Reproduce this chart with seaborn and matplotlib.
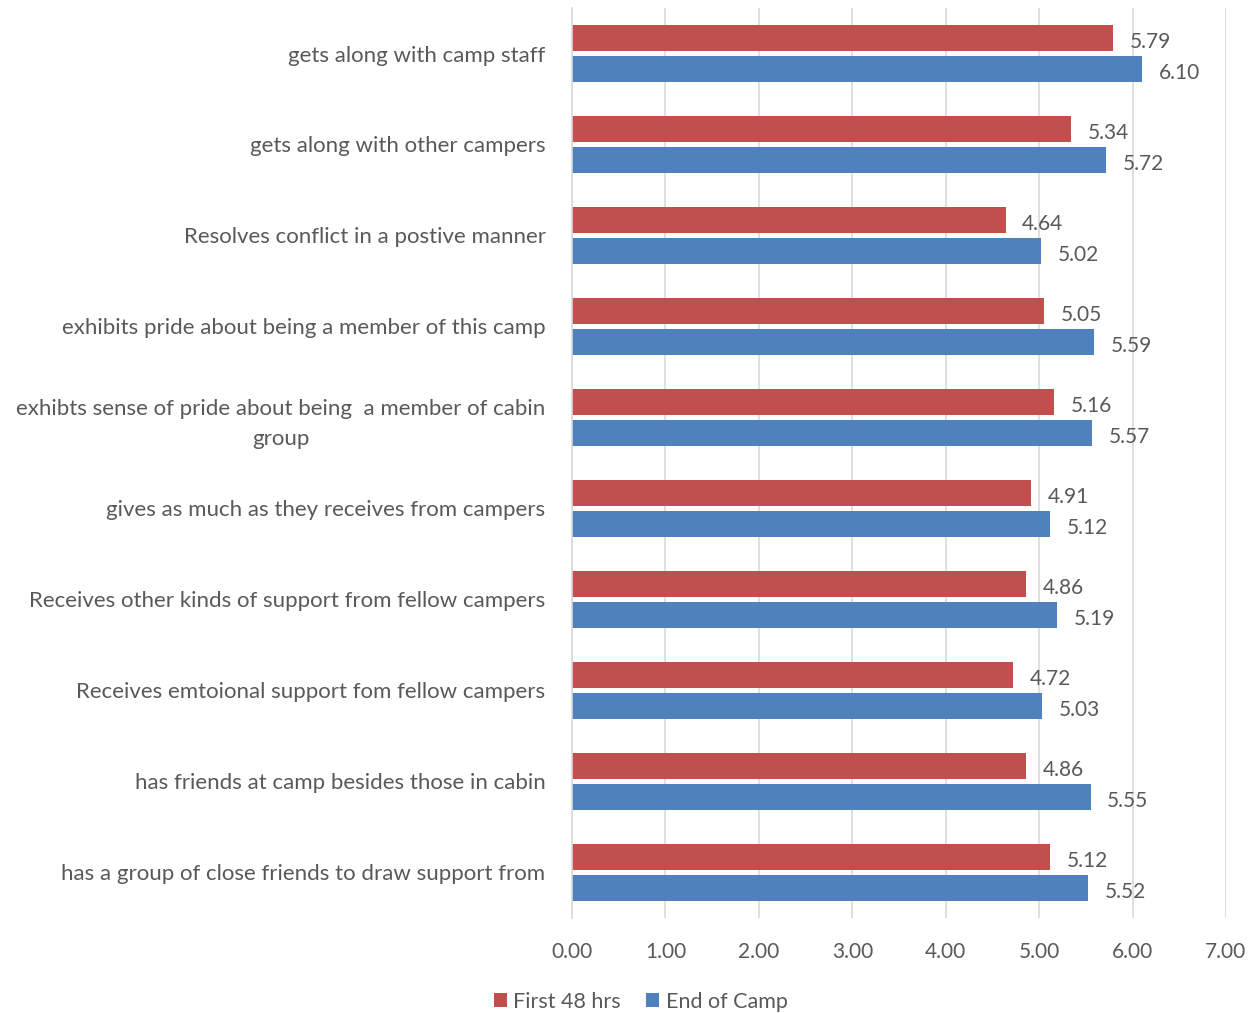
import numpy as np
import pandas as pd
import matplotlib
matplotlib.use('Agg')
import matplotlib.pyplot as plt
import seaborn as sns

items = [
	'gets along with camp staff',
	'gets along with other campers',
	'Resolves conflict in a postive manner',
	'exhibits pride about being a member of this camp',
	'exhibts sense of pride about being  a member of cabin\ngroup',
	'gives as much as they receives from campers',
	'Receives other kinds of support from fellow campers',
	'Receives emtoional support fom fellow campers',
	'has friends at camp besides those in cabin',
	'has a group of close friends to draw support from',
]
first_48 = [5.79, 5.34, 4.64, 5.05, 5.16, 4.91, 4.86, 4.72, 4.86, 5.12]
end_camp = [6.10, 5.72, 5.02, 5.59, 5.57, 5.12, 5.19, 5.03, 5.55, 5.52]
series = ['First 48 hrs', 'End of Camp']
xticks = [0, 1, 2, 3, 4, 5, 6, 7]

df = pd.DataFrame({
	'item': items * 2,
	'score': first_48 + end_camp,
	'series': [series[0]] * len(items) + [series[1]] * len(items),
})

sns.set_style('white')
plt.rcParams['font.family'] = ['Lato', 'DejaVu Sans']
txt = '#595959'

fig = plt.figure(figsize=(12.5, 10.13), dpi=100)
ax = fig.add_axes([0.4576, 0.0938, 0.5232, 0.8983])

sns.barplot(data=df, y='item', x='score', hue='series', order=items,
	hue_order=series, palette=['#c0504d', '#4f81bd'], orient='h',
	width=0.68, gap=0.14, ax=ax, errorbar=None, saturation=1,
	edgecolor='none')

# nudge the value labels a little downward, like the original
for cont in ax.containers:
	for t in ax.bar_label(cont, fmt='%.2f', padding=12, color=txt, fontsize=15):
		ox, oy = t.xyann
		t.xyann = (ox, oy - 3)

ax.set_xlim(0, 7)
ax.set_ylim(9.5, -0.5)
ax.set_xticks(xticks)
ax.set_xticklabels(['%.2f' % v for v in xticks], color=txt, fontsize=15)
ax.set_yticks(range(len(items)))
ax.set_yticklabels(items, color=txt, fontsize=16, multialignment='center',
	linespacing=1.6)
ax.tick_params(axis='y', length=0, pad=19)
ax.tick_params(axis='x', length=0, pad=17)
ax.set_xlabel('')
ax.set_ylabel('')
ax.set_axisbelow(True)
ax.grid(axis='x', color='#d9d9d9', lw=1.2)

for s in ['top', 'right', 'bottom']:
	ax.spines[s].set_visible(False)
ax.spines['left'].set_color('#d9d9d9')
ax.spines['left'].set_linewidth(1.2)

h, l = ax.get_legend_handles_labels()
ax.legend(h, l, loc='center', bbox_to_anchor=(0.105, -0.092),
	bbox_transform=ax.transAxes, ncol=2, frameon=False, fontsize=15.5,
	handlelength=0.6, handleheight=0.6, handletextpad=0.3, columnspacing=1.2,
	labelcolor=txt)

plt.savefig('out.png', dpi=100)
